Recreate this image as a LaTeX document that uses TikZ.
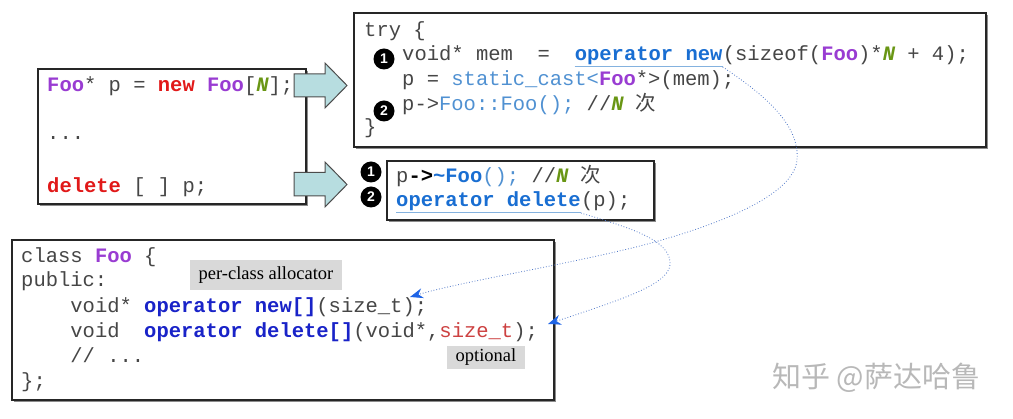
\documentclass[tikz,border=0pt]{standalone}
\usepackage{fontspec}
\usetikzlibrary{calc,shadows,arrows.meta}
\newfontfamily\codefont{Liberation Mono}
\newfontfamily\labfont{Liberation Serif}
\newfontfamily\numfont{Liberation Sans}
\newfontfamily\cjk{Noto Sans CJK SC}
\definecolor{cgray}{RGB}{70,70,70}
\definecolor{cpurple}{RGB}{153,60,210}
\definecolor{cred}{RGB}{225,25,25}
\definecolor{cgreen}{RGB}{105,150,20}
\definecolor{cblue}{RGB}{25,110,210}
\definecolor{clblue}{RGB}{80,145,210}
\definecolor{cdblue}{RGB}{25,35,200}
\definecolor{csred}{RGB}{205,65,65}
\definecolor{arrteal}{RGB}{183,221,224}
\definecolor{labgray}{RGB}{217,217,217}
\definecolor{linkblue}{RGB}{80,120,200}
\definecolor{tipblue}{RGB}{30,100,230}
\newcommand\kw[2]{\textbf{\textcolor{#1}{#2}}}
\newcommand\myN{\textbf{\textit{\textcolor{cgreen}{N}}}}
\tikzset{
  codebox/.style={draw=black!85, line width=1.3pt, fill=white, inner sep=0pt,
    drop shadow={shadow xshift=2pt, shadow yshift=-2pt, fill=black!45, opacity=1}},
  code/.style={anchor=base west, inner sep=0pt, text=cgray,
    font=\codefont\fontsize{20.5}{24}\selectfont},
  num/.style={circle, fill=black, text=white, inner sep=0pt, minimum size=21pt,
    font=\numfont\bfseries\fontsize{14}{14}\selectfont},
  lab/.style={fill=labgray, inner sep=0pt, font=\labfont\fontsize{18.5}{20}\selectfont},
  blockarrow/.style={fill=arrteal, draw=black!70, line width=1pt, line join=miter},
  uline/.style={draw=clblue!70, line width=1pt},
  link/.style={draw=linkblue, dotted, line width=0.8pt,
    -{Stealth[length=13pt,width=10pt,color=tipblue,fill=tipblue]}},
}
\begin{document}
\begin{tikzpicture}[x=1pt,y=-1pt]
\useasboundingbox (0,0) rectangle (1013,419);
% boxes
\node[codebox, minimum width=268pt, minimum height=135pt] (leftbox) at (172,136.5) {};
\node[codebox, minimum width=632pt, minimum height=134pt] (trybox) at (670,80) {};
\node[codebox, minimum width=267pt, minimum height=59pt] (delbox) at (520.5,190.5) {};
\node[codebox, minimum width=542pt, minimum height=160pt] (classbox) at (283,320) {};
% block arrows
\draw[blockarrow] (294,74) -- (325,74) -- (325,63) -- (347,85.5) -- (325,108) -- (325,97) -- (294,97) -- cycle;
\draw[blockarrow] (294,172.5) -- (325,172.5) -- (325,162) -- (347,184.5) -- (325,207) -- (325,196) -- (294,196) -- cycle;
% left box
\node[code] (l1) at (47,92) {\kw{cpurple}{Foo}* p = \kw{cred}{new} \kw{cpurple}{Foo}[\myN];};
\node[code] (l2) at (47,140) {...};
\node[code] (l3) at (47,193) {\kw{cred}{delete} [ ] p;};
% try box
\node[code] (t1) at (364,37) {try \{};
\node[code] (t2a) at (402,61) {void* mem~~=~~\null};
\node[code, anchor=base west] (t2b) at (t2a.base east) {\kw{cblue}{operator new}};
\node[code, anchor=base west] (t2c) at (t2b.base east) {(sizeof(\kw{cpurple}{Foo})*\myN{} + 4);};
\node[code] (t3) at (402,86) {p = \textcolor{clblue}{static\_cast<}\kw{cpurple}{Foo}*>(mem);};
\node[code] (t4) at (402,111) {p->\textcolor{clblue}{Foo::Foo();} //\myN{} {\cjk 次}};
\node[code] (t5) at (364,134) {\}};
\node[num] (n1) at (384,59) {1};
\node[num] (n2) at (384,111) {2};
\draw[uline] ($(t2b.base west)+(0,6)$) -- ($(t2b.base east)+(0,6)$);
% delete box
\node[code] (m1) at (396,183) {p\textbf{\textcolor{black}{->}}\kw{cblue}{\textasciitilde Foo}\textcolor{clblue}{();} //\myN{} {\cjk 次}};
\node[code] (m2a) at (396,207) {\kw{cblue}{operator delete}};
\node[code, anchor=base west] (m2b) at (m2a.base east) {(p);};
\node[num] (d1) at (371,172) {1};
\node[num] (d2) at (371,197) {2};
\draw[uline] ($(m2a.base west)+(0,6)$) -- ($(m2a.base east)+(0,6)$);
% class box
\node[code] (c1) at (21,263) {class \kw{cpurple}{Foo} \{};
\node[code] (c2) at (21,287) {public:};
\node[code] (c3) at (21,313) {~~~~void* \kw{cdblue}{operator new[]}(size\_t);};
\node[code] (c4) at (21,338) {~~~~void~~\kw{cdblue}{operator delete[]}(void*,\textcolor{csred}{size\_t});};
\node[code] (c5) at (21,363) {~~~~// ...};
\node[code] (c6) at (21,388) {\};};
% labels
\node[lab, minimum width=152pt, minimum height=30pt] (pca) at (266,275) {per-class allocator};
\node[lab, minimum width=78pt, minimum height=23pt] (opt) at (486,357.5) {optional};
% dotted links
\coordinate (s1) at ($(t2b.base east)+(0,6)$);
\coordinate (e1) at (410,297);
\coordinate (s2) at ($(m2a.base east)+(0,6)$);
\coordinate (e2) at (548,324);
\draw[link] (s1) .. controls (765,95) and (800,125) .. (797,160)
  .. controls (794,195) and (720,225) .. (640,246)
  .. controls (560,266) and (460,282) .. (e1);
\draw[link] (s2) .. controls (630,228) and (672,240) .. (670,265)
  .. controls (668,285) and (620,300) .. (e2);
% watermark
\node[anchor=base west, inner sep=0pt, text=black!28, font=\cjk\fontsize{29}{29}\selectfont] (zh) at (772,388) {知乎 @萨达哈鲁};
\end{tikzpicture}
\end{document}
